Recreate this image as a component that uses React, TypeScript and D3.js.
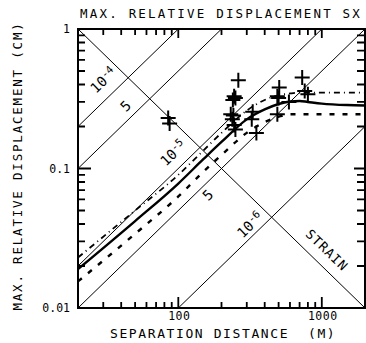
import { useEffect, useRef } from "react"
import * as d3 from "d3"

const W = 366, H = 343
const FONT = "'DejaVu Sans Mono', monospace"

// constant strain lines (displacement cm = strain * distance m * 100)
const strains = [1e-4, 5e-5, 1e-5, 5e-6, 1e-6]
// label text, exponent and anchor (distance m, displacement cm)
const strainText = ["10", "5", "10", "5", "10"]
const strainExp = ["-4", "", "-5", "", "-6"]
const strainLabelD = [30, 43, 92, 161, 316]
const strainLabelV = [0.43, 0.28, 0.129, 0.0645, 0.0394]

// mean and bounds of relative displacement
const curveDist = [20, 50, 100, 150, 200, 300, 400, 500, 600, 700, 800, 1000, 1500, 2000]
const meanDisp = [0.019, 0.042, 0.078, 0.117, 0.155, 0.225, 0.265, 0.29, 0.302, 0.305, 0.3, 0.292, 0.285, 0.283]
const upperDisp = [0.023, 0.05, 0.09, 0.135, 0.18, 0.26, 0.31, 0.335, 0.345, 0.35, 0.35, 0.35, 0.35, 0.35]
const lowerDisp = [0.0155, 0.034, 0.063, 0.095, 0.125, 0.18, 0.215, 0.235, 0.245, 0.245, 0.245, 0.245, 0.245, 0.245]

// observed pairs
const obsDist = [85, 87, 262, 245, 250, 240, 232, 242, 238, 245, 250, 330, 325, 350, 505, 490, 500, 490, 590, 730, 760, 800]
const obsDisp = [0.23, 0.21, 0.43, 0.33, 0.32, 0.31, 0.245, 0.24, 0.225, 0.205, 0.19, 0.255, 0.225, 0.18, 0.38, 0.33, 0.32, 0.245, 0.3, 0.45, 0.36, 0.34]

const xMinor = [30, 40, 50, 60, 70, 80, 90, 200, 300, 400, 500, 600, 700, 800, 900]
const xMajor = [100, 1000]
const yMinor = [0.02, 0.03, 0.04, 0.05, 0.06, 0.07, 0.08, 0.09, 0.2, 0.3, 0.4, 0.5, 0.6, 0.7, 0.8, 0.9]
const yMajor = [0.1]
const yTickLabels = [1, 0.1, 0.01]

export default function App() {
  const ref = useRef<SVGSVGElement>(null)
  useEffect(() => {
    if (!ref.current) return
    const svg = d3.select(ref.current)
    svg.selectAll("*").remove()
    const L = 78, R = 365, T = 29, B = 308
    const x = d3.scaleLog().domain([20, 2000]).range([L, R])
    const y = d3.scaleLog().domain([0.01, 1]).range([B, T])

    const clip = svg.append("defs").append("clipPath").attr("id", "pc")
    clip.append("rect").attr("x", L).attr("y", T).attr("width", R - L).attr("height", B - T)
    const g = svg.append("g").attr("clip-path", "url(#pc)")

    // strain lines
    strains.forEach(s => {
      g.append("line").attr("x1", x(20)).attr("y1", y(s * 100 * 20)).attr("x2", x(2000)).attr("y2", y(s * 100 * 2000))
        .attr("stroke", "#000").attr("stroke-width", 1)
    })
    // cross line
    g.append("line").attr("x1", x(20)).attr("y1", y(1)).attr("x2", x(2000)).attr("y2", y(0.01))
      .attr("stroke", "#000").attr("stroke-width", 1)

    const curve = (vals: number[]) => d3.line<number>().x((_, i) => x(curveDist[i])).y(d => y(d)).curve(d3.curveMonotoneX)(vals)
    g.append("path").attr("d", curve(upperDisp)).attr("fill", "none").attr("stroke", "#000").attr("stroke-width", 1.8).attr("stroke-dasharray", "6,4,1,4")
    g.append("path").attr("d", curve(meanDisp)).attr("fill", "none").attr("stroke", "#000").attr("stroke-width", 2.4)
    g.append("path").attr("d", curve(lowerDisp)).attr("fill", "none").attr("stroke", "#000").attr("stroke-width", 2.4).attr("stroke-dasharray", "5,8")

    // plus markers
    const a = 7.5
    obsDist.forEach((d, i) => {
      const px = x(d), py = y(obsDisp[i])
      g.append("path").attr("d", `M${px - a},${py}H${px + a}M${px},${py - a}V${py + a}`)
        .attr("stroke", "#000").attr("stroke-width", 2).attr("fill", "none")
    })

    // strain labels
    strains.forEach((_, i) => {
      const t = svg.append("text").attr("transform", `translate(${x(strainLabelD[i])},${y(strainLabelV[i])}) rotate(-44)`)
        .attr("text-anchor", "middle").attr("dy", "0.35em").style("font-family", FONT).style("font-size", "14px")
      t.append("tspan").text(strainText[i])
      if (strainExp[i]) t.append("tspan").attr("dy", "-0.45em").style("font-size", "10.5px").text(strainExp[i])
    })
    svg.append("text").attr("transform", `translate(${x(1086)},${y(0.026)}) rotate(44)`)
      .attr("text-anchor", "middle").attr("dy", "0.35em").style("font-family", FONT).style("font-size", "13px")
      .style("letter-spacing", "1px").text("STRAIN")

    // frame
    svg.append("rect").attr("x", L).attr("y", T).attr("width", R - L).attr("height", B - T)
      .attr("fill", "none").attr("stroke", "#000").attr("stroke-width", 2)

    // ticks, inward on all four sides
    let tp = ""
    xMinor.forEach(v => { tp += `M${x(v)},${B}V${B - 6}M${x(v)},${T}V${T + 6}` })
    xMajor.forEach(v => { tp += `M${x(v)},${B}V${B - 11}M${x(v)},${T}V${T + 9}` })
    yMinor.forEach(v => { tp += `M${L},${y(v)}H${L + 7}M${R},${y(v)}H${R - 8}` })
    yMajor.forEach(v => { tp += `M${L - 1},${y(v)}H${L + 13}M${R},${y(v)}H${R - 11}` })
    svg.append("path").attr("d", tp).attr("fill", "none").attr("stroke", "#000").attr("stroke-width", 1.8)

    // tick labels
    xMajor.forEach(v => {
      svg.append("text").attr("x", x(v) + 1).attr("y", 320).attr("text-anchor", "middle")
        .style("font-family", FONT).style("font-size", "11.5px").style("letter-spacing", "0.5px").text(String(v))
    })
    yTickLabels.forEach(v => {
      svg.append("text").attr("x", 70).attr("y", y(v) + 4).attr("text-anchor", "end")
        .style("font-family", FONT).style("font-size", "11.5px").text(String(v))
    })

    // titles
    svg.append("text").attr("x", 80).attr("y", 18).style("font-family", FONT).style("font-size", "12.5px")
      .style("letter-spacing", "2.2px").text("MAX. RELATIVE DISPLACEMENT SX")
    svg.append("text").attr("x", 110).attr("y", 338).style("font-family", FONT).style("font-size", "13px")
      .style("letter-spacing", "1.6px").style("white-space", "pre").text("SEPARATION DISTANCE  (M)")
    svg.append("text").attr("transform", `translate(22,166) rotate(-90)`).attr("text-anchor", "middle")
      .style("font-family", FONT).style("font-size", "12.5px").style("letter-spacing", "1.8px")
      .text("MAX. RELATIVE DISPLACEMENT (CM)")
  }, [])
  return <svg ref={ref} width={W} height={H} style={{ position: "absolute", left: 0, top: 0, background: "#fff" }} />
}
